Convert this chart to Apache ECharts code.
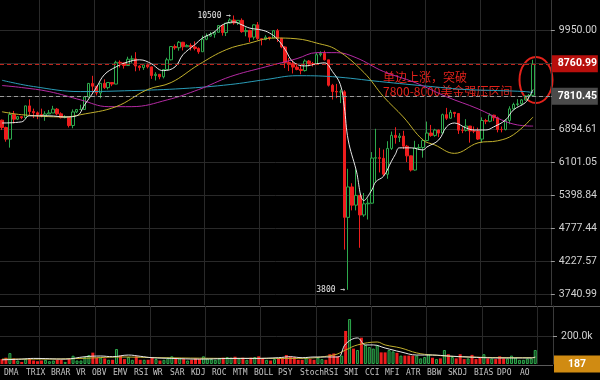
<!DOCTYPE html>
<html><head><meta charset="utf-8">
<script src="https://cdn.jsdelivr.net/npm/echarts@6/dist/echarts.min.js"></script>
<style>html,body{margin:0;padding:0;background:#000;}#c{width:600px;height:380px;}</style>
</head><body><div id="c"></div>
<script>
// ---------- data ----------
const startDay = '2019-12-16';
const slotCount = 140;
const open = [7124,6932,6640,7277,7151,7218,7191,7511,7355,7322, 7275,7238,7290,7317,7422,7293,7193,7200,6985,7345, 7410,7411,7769,8163,8080,7879,8166,8038,8192,8144, 8827,8807,8723,8929,8942,8706,8657,8745,8680,8406, 8445,8367,8596,8910,9358,9317,9509,9351,9393,9344, 9293,9180,9613,9729,9795,9865,10116,9856,10208,10326, 10214,10312,9889,9934,9690,10142,9633,9608,9686,9663, 9924,9650,9342,8820,8784,8672,8599,8562,8869,8787, 8755,9079,9122,8909,8108,7923,7909,7912,4970,5563, 5200,5392,5014,5225,5238,6191,6198,6185,5831,6416, 6735,6681,6716,6469,6242,5922,6429,6438,6607,6793, 6733,6868,6791,7271,7176,7334,7302,6865,6859,6971, 6845,6842,6642,7116,7096,7257,7189,6881,6880,7117, 7429,7550,7569,7679,7796,7810.45];
const close = [6932,6640,7277,7151,7218,7191,7511,7355,7322,7275, 7238,7290,7317,7422,7293,7193,7200,6985,7345,7410, 7411,7769,8163,8080,7879,8166,8038,8192,8144,8827, 8807,8723,8929,8942,8706,8657,8745,8680,8406,8445, 8367,8596,8910,9358,9317,9509,9351,9393,9344,9293, 9180,9613,9729,9795,9865,10116,9856,10208,10326,10214, 10312,9889,9934,9690,10142,9633,9608,9686,9663,9924, 9650,9342,8820,8784,8672,8599,8562,8869,8787,8755, 9079,9122,8909,8108,7923,7909,7912,4970,5563,5200, 5392,5014,5225,5238,6191,6198,6185,5831,6416,6735, 6681,6716,6469,6242,5922,6429,6438,6607,6793,6733, 6868,6791,7271,7176,7334,7302,6865,6859,6971,6845, 6842,6642,7116,7096,7257,7189,6881,6880,7117,7429, 7550,7569,7679,7796,7807,8760.99];
const low = [6868,6578,6435,7039,7127,7150,7167,7265,7180,7150, 7200,7108,7290,7317,7255,7170,7174,6935,6914,7313, 7400,7409,7743,7887,7809,7727,8000,7985,8080,8140, 8660,8625,8718,8810,8539,8560,8582,8630,8303,8253, 8290,8316,8586,8890,9250,9215,9225,9340,9222,9226, 9111,9177,9580,9708,9670,9865,9745,9730,10200,10150, 10140,9850,9722,9517,9600,9590,9400,9580,9580,9655, 9520,9300,8640,8546,8470,8570,8444,8530,8700,8690, 8750,9020,8890,8070,7690,7730,7590,4410,3800,5100, 5100,4440,4980,4930,5230,5670,5870,5790,5734,6380, 6530,6570,6400,6100,5890,5910,6380,6200,6600,6700, 6700,6690,6780,7130,7160,7200,6770,6790,6830,6555, 6790,6620,6560,7020,7070,7100,6810,6810,6860,7020, 7400,7500,7530,7660,7700,7790];
const high = [7140,6955,7348,7372,7220,7220,7518,7695,7436,7357, 7435,7363,7399,7513,7454,7335,7255,7212,7413,7427, 7544,7782,8178,8397,8082,8166,8287,8192,8197,8880, 8890,8810,9012,9050,9164,8730,8765,8790,8680,8510, 8445,8600,8977,9370,9431,9553,9521,9440,9469,9540, 9331,9744,9824,9876,9916,10129,10155,10210,10393,10500, 10321,10388,10050,9960,10162,10250,9650,9760,9700,9950, 9990,9660,9370,8970,8890,8790,8750,8925,8900,8840, 9150,9195,9217,8910,8150,8150,7980,7960,5950,5640, 5940,5400,5440,5330,6330,6900,6430,6390,6590,6830, 6940,6790,6850,6500,6250,6600,6520,6650,7088,7000, 6900,6880,7300,7456,7400,7340,7310,6940,7150,6971, 6960,6930,7200,7160,7310,7270,7220,6960,7150,7500, 7600,7700,7700,7800,7850,8910];
const volume = [35,45,78,40,25,15,35,40,25,20, 25,30,20,25,30,30,15,35,59,25, 25,50,64,81,45,45,40,30,30,107, 60,35,50,30,55,30,30,30,45,35, 25,30,45,55,40,40,35,25,30,40, 35,55,40,35,30,40,45,50,45,52, 40,45,30,45,50,55,40,30,25,35, 40,45,64,55,50,30,30,45,35,30, 45,35,30,70,75,55,60,236,321,110, 100,188,136,121,110,136,83,83,100,90, 80,60,60,60,60,60,40,50,70,45, 35,40,100,70,50,40,70,35,40,65, 35,45,70,40,40,35,55,40,40,60, 45,30,30,40,40,100].map(v => v * 1000);
// moving-average lines: [slot, value]
const maWhite = [[0,7050],[5,7080],[7,7240],[12,7240],[16,7210],[19,7240],[21,7540],[24,8040],[26,8430],[29,8680],[32,8840],[35,8910],[38,8780],[40,8590],[41,8560],[44,8680],[46,9080],[49,9420],[51,9660],[54,9880],[56,10140],[59,10250],[61,10140],[63,10020],[66,9950],[68,9840],[70,9620],[72,9250],[74,8840],[77,8710],[80,8780],[82,8810],[84,8530],[86,8130],[87,7490],[88,6620],[90,5930],[92,5290],[94,5500],[95,5670],[97,5790],[99,6120],[100,6280],[101,6430],[104,6430],[107,6380],[108,6450],[111,6620],[113,6950],[115,7050],[118,6920],[120,6870],[123,6870],[125,6950],[128,7130],[130,7400],[133,7600],[134,7770],[135,7980]];
const maYellow = [[0,7350],[5,7270],[16,7210],[20,7270],[29,7490],[37,7980],[43,8190],[50,8750],[57,9250],[63,9480],[69,9660],[75,9630],[80,9480],[85,9250],[92,8500],[97,7770],[102,7210],[107,6620],[110,6500],[115,6300],[121,6550],[126,6600],[130,6750],[135,7210]];
const maMagenta = [[0,8100],[5,8040],[12,7920],[20,7680],[27,7490],[33,7490],[42,7680],[50,7980],[58,8370],[67,8680],[75,8950],[80,9150],[85,9150],[90,8980],[97,8530],[105,8190],[113,7770],[121,7430],[127,7130],[131,7000],[135,6970]];
const maCyan = [[0,8260],[8,8070],[20,7920],[33,7950],[46,8010],[58,8130],[67,8280],[75,8400],[84,8370],[96,8220],[109,8070],[118,7980],[126,7950],[133,7920],[135,7890]];
const volWhite = [[0,30],[5,35],[8,40],[16,35],[21,52],[25,57],[28,52],[32,64],[35,55],[38,45],[43,40],[50,35],[59,40],[64,40],[70,45],[73,52],[76,45],[79,50],[85,50],[87,143],[90,186],[92,136],[94,136],[97,114],[101,86],[105,64],[109,64],[113,57],[118,50],[126,43],[134,43],[135,50]].map(p => [p[0], p[1]*1000]);
const volYellow = [[0,35],[10,35],[20,40],[30,50],[40,45],[60,40],[75,40],[84,64],[87,100],[90,136],[95,157],[97,136],[101,114],[105,79],[109,64],[118,50],[134,45],[135,46]].map(p => [p[0], p[1]*1000]);
const priceTicks = [3740.99, 4227.57, 4777.44, 5398.84, 6101.05, 6894.61, 7791.3, 8804.7, 9950.00];
const priceLabels = [3740.99, 4227.57, 4777.44, 5398.84, 6101.05, 6894.61, 9950.00];
const priceRange = [3592, 11120];
const lastPrice = 8760.99, openPrice = 7810.45, lastVolume = 187;
const volTicks = [200000];
const volMax = 414000;
const maxLabel = '10500 →', minLabel = '3800 →';
const noteLines = ['单边上涨，突破', '7800-8000美金强压区间'];
const tabs = ['DMA','TRIX','BRAR','VR','OBV','EMV','RSI','WR','SAR','KDJ','ROC','MTM','BOLL','PSY','StochRSI','SMI','CCI','MFI','ATR','BBW','SKDJ','BIAS','DPO','AO'];

// ---------- build ----------
const LN = Math.log;
const cats = [];
const d0 = new Date(startDay + 'T00:00:00Z');
for (let i = 0; i < slotCount; i++) cats.push(new Date(d0.getTime() + i * 864e5).toISOString().slice(0, 10));
const UP = '#2da94c', DOWN = '#ee1d1d';
const candles = open.map((o, i) => [LN(o), LN(close[i]), LN(low[i]), LN(high[i])]);
const volData = volume.map((v, i) => {
  const up = close[i] >= open[i];
  return { value: v, itemStyle: { color: up ? '#0f3518' : DOWN, borderColor: up ? UP : DOWN, borderWidth: up ? 1 : 0 } };
});
let hiIdx = 0, loIdx = 0;
high.forEach((h, i) => { if (h > high[hiIdx]) hiIdx = i; });
low.forEach((l, i) => { if (l < low[loIdx]) loIdx = i; });
const gridLineFn = (i) => i % 14 === 10;
const lnPair = arr => arr.map(p => [p[0], LN(p[1])]);
const FONT = 'Roboto, "Noto Sans", sans-serif';
const MONO = '"DejaVu Sans Mono", monospace';

const chart = echarts.init(document.getElementById('c'), null, { renderer: 'canvas', devicePixelRatio: 1 });

// tab bar layout (text positions along the bottom strip)
const tabLeft = [4,26,51,76,92,113,134,153,170,191,212,233,254,278,300,344,365,385,406,427,448,474,497,520];
const tabGraphics = tabs.map((t, i) => ({ type: 'text', left: tabLeft[i], top: 369, style: { text: t, fill: '#c4c4c4', font: '8px ' + MONO } }));

const boxLabel = (txt, bg) => ({ show: true, position: 'end', distance: 1, formatter: txt, color: '#fff', fontWeight: 'bold', fontSize: 10.5, fontFamily: FONT, backgroundColor: bg, padding: [3, 2, 3, 6], width: 38 });

const option = {
  backgroundColor: '#000',
  animation: false,
  grid: [
    { left: 0, right: 47, top: 0, height: 305 },
    { left: 0, right: 47, top: 306, height: 58 }
  ],
  xAxis: [
    { type: 'category', data: cats, gridIndex: 0, boundaryGap: true, axisLine: { show: false }, axisTick: { show: false, interval: gridLineFn }, axisLabel: { show: false }, splitLine: { show: true, interval: gridLineFn, lineStyle: { color: '#292929' } } },
    { type: 'category', data: cats, gridIndex: 1, boundaryGap: true, axisLine: { show: false }, axisTick: { show: false, interval: gridLineFn }, axisLabel: { show: false }, splitLine: { show: true, interval: gridLineFn, lineStyle: { color: '#292929' } } }
  ],
  yAxis: [
    { type: 'value', gridIndex: 0, position: 'right', min: LN(priceRange[0]), max: LN(priceRange[1]),
      axisLine: { show: true, lineStyle: { color: '#3a3a3a' } },
      axisTick: { show: true, length: 4, lineStyle: { color: '#999' }, customValues: priceTicks.map(LN) },
      axisLabel: { customValues: priceLabels.map(LN), formatter: v => Math.exp(v).toFixed(2), color: '#d2d2d2', fontSize: 10.5, fontFamily: FONT, margin: 8 },
      splitLine: { show: true, lineStyle: { color: '#292929' } } },
    { type: 'value', gridIndex: 1, position: 'right', min: 0, max: volMax,
      axisLine: { show: true, lineStyle: { color: '#3a3a3a' } },
      axisTick: { show: true, length: 4, lineStyle: { color: '#999' }, customValues: volTicks },
      axisLabel: { customValues: volTicks, formatter: v => (v / 1000).toFixed(1) + 'k', color: '#d2d2d2', fontSize: 10.5, fontFamily: FONT, margin: 8 },
      splitLine: { show: true, lineStyle: { color: '#292929' } } }
  ],
  series: [
    { type: 'candlestick', xAxisIndex: 0, yAxisIndex: 0, data: candles, barWidth: 3,
      itemStyle: { color: 'rgba(0,0,0,0)', color0: DOWN, borderColor: UP, borderColor0: DOWN, borderWidth: 1 },
      markLine: { silent: true, symbol: 'none', animation: false,
        data: [
          { yAxis: LN(lastPrice), lineStyle: { color: '#c0241c', type: [4, 3], width: 1 }, label: boxLabel(lastPrice.toFixed(2), '#b80f0c') },
          { yAxis: LN(openPrice), lineStyle: { color: '#9a9a9a', type: [4, 3], width: 1 }, label: boxLabel(openPrice.toFixed(2), '#4a4a4a') }
        ] },
      markPoint: { silent: true, symbol: 'circle', symbolSize: 0, animation: false,
        data: [
          { coord: [hiIdx, LN(high[hiIdx])], label: { show: true, position: 'left', distance: 3, formatter: maxLabel, color: '#e6e6e6', fontSize: 8, fontFamily: MONO } },
          { coord: [loIdx, LN(low[loIdx])], label: { show: true, position: 'left', distance: 3, formatter: minLabel, color: '#e6e6e6', fontSize: 8, fontFamily: MONO } }
        ] } },
    { type: 'line', xAxisIndex: 0, yAxisIndex: 0, data: lnPair(maCyan), showSymbol: false, smooth: 0.4, lineStyle: { color: '#2a9db8', width: 1 } },
    { type: 'line', xAxisIndex: 0, yAxisIndex: 0, data: lnPair(maMagenta), showSymbol: false, smooth: 0.4, lineStyle: { color: '#b52aa3', width: 1 } },
    { type: 'line', xAxisIndex: 0, yAxisIndex: 0, data: lnPair(maYellow), showSymbol: false, smooth: 0.4, lineStyle: { color: '#c2b02c', width: 1 } },
    { type: 'line', xAxisIndex: 0, yAxisIndex: 0, data: lnPair(maWhite), showSymbol: false, smooth: 0.4, lineStyle: { color: '#e8e8e8', width: 1 } },
    { type: 'bar', xAxisIndex: 1, yAxisIndex: 1, data: volData, barWidth: 3,
      markLine: { silent: true, symbol: 'none', animation: false,
        data: [{ yAxis: lastVolume, lineStyle: { color: 'rgba(0,0,0,0)' },
          label: { show: true, position: 'end', distance: 1, formatter: String(lastVolume), color: '#fff', fontWeight: 'bold', fontSize: 10.5, fontFamily: FONT, backgroundColor: '#d08b12', padding: [3, 14, 3, 14] } }] } },
    { type: 'line', xAxisIndex: 1, yAxisIndex: 1, data: volYellow, showSymbol: false, smooth: 0.4, lineStyle: { color: '#c2b02c', width: 1 } },
    { type: 'line', xAxisIndex: 1, yAxisIndex: 1, data: volWhite, showSymbol: false, smooth: 0.4, lineStyle: { color: '#e8e8e8', width: 1 } }
  ],
  graphic: [
    { type: 'line', shape: { x1: 0, y1: 306.5, x2: 600, y2: 306.5 }, style: { stroke: '#5a5a5a', lineWidth: 1 } },
    { type: 'line', shape: { x1: 0, y1: 365.5, x2: 553, y2: 365.5 }, style: { stroke: '#5a5a5a', lineWidth: 1 } },
    { type: 'text', left: 383, top: 71, style: { text: noteLines[0], fill: '#e3221b', font: '12px "Noto Sans CJK SC", sans-serif' } },
    { type: 'text', left: 383, top: 85, style: { text: noteLines[1], fill: '#e3221b', font: '12px "Noto Sans CJK SC", sans-serif' } },
    { type: 'ellipse', shape: { cx: 536, cy: 80, rx: 16.5, ry: 23 }, style: { fill: 'none', stroke: '#e3221b', lineWidth: 2 } }
  ].concat(tabGraphics)
};
chart.setOption(option);
</script>
</body></html>
